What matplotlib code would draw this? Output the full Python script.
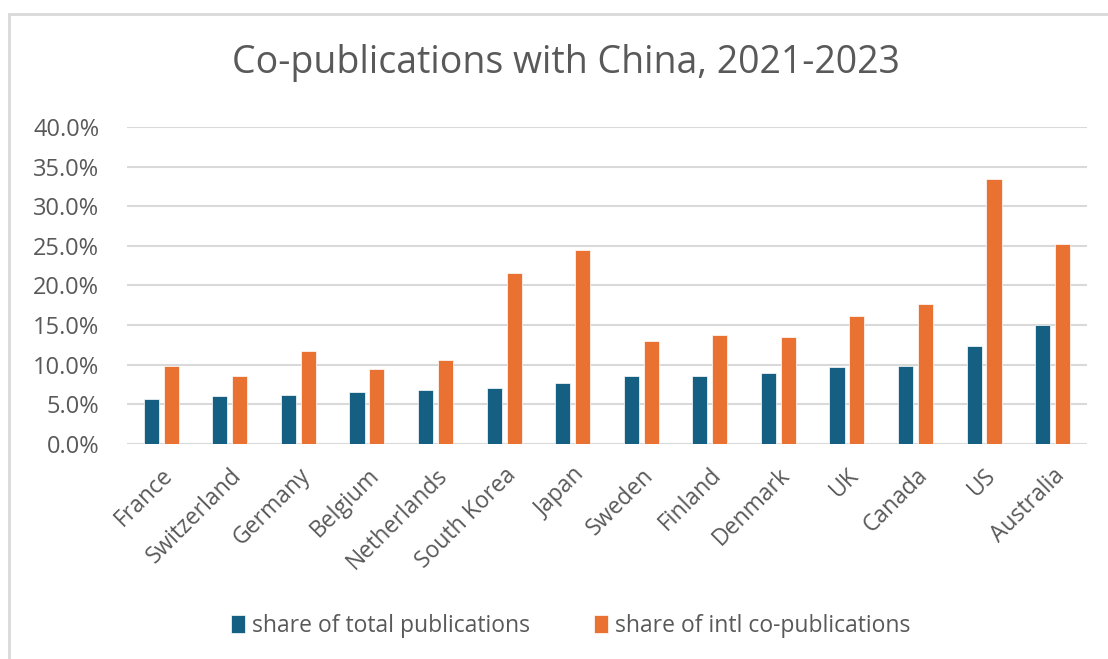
#!/usr/bin/env python3
import numpy as np
import matplotlib.pyplot as plt
from matplotlib.patches import Rectangle
from matplotlib.ticker import PercentFormatter

countries = ['France', 'Switzerland', 'Germany', 'Belgium', 'Netherlands',
             'South Korea', 'Japan', 'Sweden', 'Finland', 'Denmark', 'UK',
             'Canada', 'US', 'Australia']
share_total = [5.7, 6.0, 6.2, 6.6, 6.8, 7.0, 7.7, 8.6, 8.6, 9.0, 9.7, 9.9,
               12.3, 15.0]
share_intl = [9.9, 8.6, 11.7, 9.5, 10.6, 21.6, 24.5, 13.0, 13.8, 13.5, 16.2,
              17.6, 33.4, 25.2]

plt.rcParams['font.family'] = ['Open Sans', 'DejaVu Sans']
grey = '#595959'

fig = plt.figure(figsize=(11.08, 6.59), dpi=100)
ax = fig.add_axes([0.1146, 0.3263, 0.981 - 0.1146, 0.8073 - 0.3263])

# chart area border
fig.patches.append(Rectangle((9 / 1108, -0.1), 1.2, 1 - 14 / 659 + 0.1,
                             transform=fig.transFigure, fill=False,
                             edgecolor='#d9d9d9', linewidth=2))

x = np.arange(len(countries))
w = 0.22
ax.bar(x - 0.145, np.array(share_total) / 100, w, color='#156082',
       edgecolor='white', linewidth=0.5, label='share of total publications',
       zorder=3)
ax.bar(x + 0.145, np.array(share_intl) / 100, w, color='#E97132',
       edgecolor='white', linewidth=0.5, label='share of intl co-publications',
       zorder=3)

ax.set_xlim(-0.5, len(countries) - 0.5)
ax.set_ylim(0, 0.40)
ax.set_yticks(np.arange(0, 0.41, 0.05))
ax.yaxis.set_major_formatter(PercentFormatter(1.0, decimals=1))
ax.grid(axis='y', color='#d9d9d9', linewidth=1.5, zorder=0)
for s in ax.spines.values():
    s.set_visible(False)
ax.tick_params(length=0, colors=grey, labelsize=17)
ax.tick_params(axis='y', pad=20)
ax.tick_params(axis='x', pad=14)
ax.set_xticks(x)
ax.set_xticklabels(countries, rotation=45, ha='right', rotation_mode='anchor',
                   fontsize=16.5, color=grey)

fig.text(0.511, 1 - 63 / 659, 'Co-publications with China, 2021-2023',
         ha='center', va='center', fontsize=27, color=grey)

fig.legend(loc='center', bbox_to_anchor=(0.515, 1 - 626 / 659), ncol=2,
           frameon=False, fontsize=16.5, labelcolor=grey, handlelength=0.6,
           handleheight=0.8, handletextpad=0.3, columnspacing=2.8)

plt.savefig('out.png', dpi=100)
